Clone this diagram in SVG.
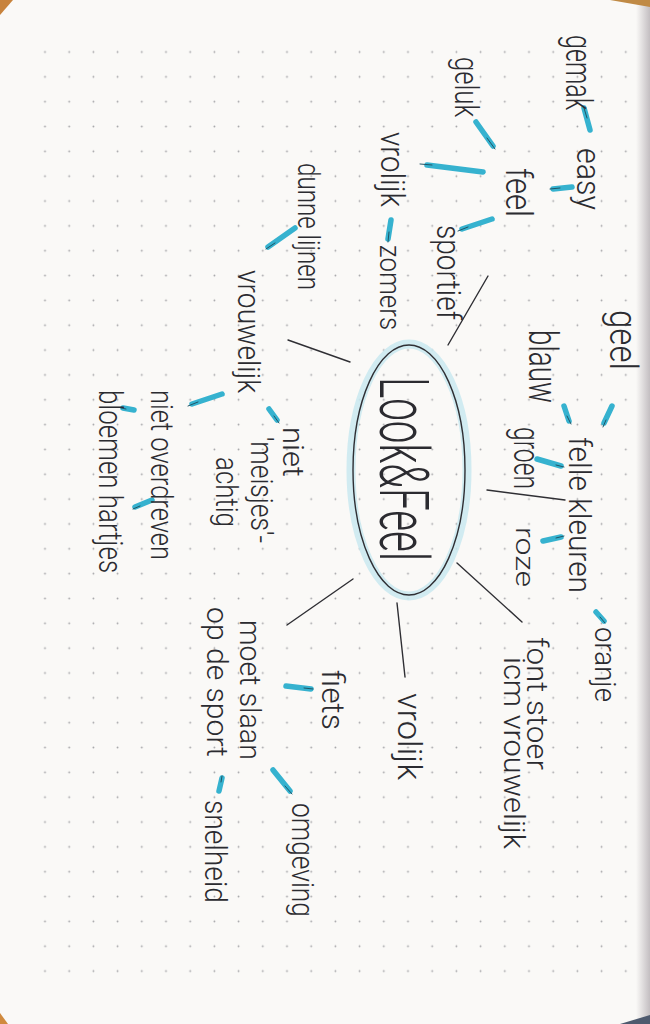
<svg xmlns="http://www.w3.org/2000/svg" width="650" height="1024" viewBox="0 0 650 1024">
<defs>
<pattern id="dots" patternUnits="userSpaceOnUse" x="32.9" y="39.58" width="24.2" height="24.84">
<circle cx="12.1" cy="12.42" r="0.9" fill="#a2a2a6"/>
</pattern>
<linearGradient id="edge" x1="0" y1="0" x2="1" y2="0">
<stop offset="0" stop-color="#faf9f7"/>
<stop offset="1" stop-color="#c3bec1"/>
</linearGradient>
<style>
.t{font-family:Roboto,"Liberation Sans",sans-serif;font-weight:300;fill:#2b2b30}
.c{stroke:#2f2f34;stroke-width:1.4;stroke-linecap:round;fill:none}
.b{stroke:#36b2cf;stroke-width:5.5;stroke-linecap:round;fill:none}
.k{stroke:#1f5566;stroke-width:1;stroke-linecap:round;fill:none}
</style>
</defs>
<rect width="650" height="1024" fill="#faf9f7"/>
<rect x="636" y="0" width="14" height="1024" fill="url(#edge)"/>
<rect x="32.9" y="39.58" width="605" height="944" fill="url(#dots)"/>
<path d="M0 0 L13 0 L0 15 Z" fill="#c8833c"/>
<path d="M610 0 L650 0 L650 7 Z" fill="#c08a45"/>
<path d="M0 1013 L8 1024 L0 1024 Z" fill="#d08a3e"/>
<path d="M620 1024 L650 1015 L650 1024 Z" fill="#4e5a6e"/>

<g id="connectors">
<line class="c" x1="448" y1="345" x2="488" y2="276"/>
<line class="c" x1="288" y1="340" x2="350" y2="362"/>
<line class="c" x1="487" y1="490" x2="565" y2="500"/>
<line class="c" x1="457" y1="563" x2="522" y2="622"/>
<line class="c" x1="397" y1="603" x2="405" y2="677"/>
<line class="c" x1="353" y1="579" x2="287" y2="625"/>
<g>
<line class="b" x1="584" y1="108" x2="590" y2="130"/><line class="k" x1="584" y1="108" x2="587" y2="118"/>
<line class="b" x1="476" y1="122" x2="493" y2="146"/><line class="k" x1="487" y1="138" x2="495" y2="149"/>
<line class="b" x1="553" y1="189" x2="572" y2="187"/><line class="k" x1="550" y1="189" x2="560" y2="188"/>
<line class="b" x1="427" y1="165" x2="483" y2="172"/><line class="k" x1="420" y1="164" x2="432" y2="165"/>
<line class="b" x1="391" y1="220" x2="388" y2="239"/><line class="k" x1="389" y1="232" x2="388" y2="242"/>
<line class="b" x1="462" y1="229" x2="492" y2="219"/><line class="k" x1="458" y1="231" x2="468" y2="227"/>
<line class="b" x1="268" y1="247" x2="295" y2="228"/><line class="k" x1="266" y1="249" x2="275" y2="243"/>
<line class="b" x1="269" y1="409" x2="277" y2="420"/><line class="k" x1="274" y1="416" x2="279" y2="423"/>
<line class="b" x1="192" y1="404" x2="222" y2="394"/><line class="k" x1="188" y1="406" x2="198" y2="402"/>
<line class="b" x1="123" y1="408" x2="134" y2="410"/><line class="k" x1="121" y1="408" x2="126" y2="409"/>
<line class="b" x1="135" y1="507" x2="152" y2="500"/><line class="k" x1="133" y1="509" x2="140" y2="506"/>
<line class="b" x1="612" y1="406" x2="604" y2="423"/><line class="k" x1="606" y1="420" x2="603" y2="427"/>
<line class="b" x1="564" y1="406" x2="569" y2="421"/><line class="k" x1="567" y1="416" x2="571" y2="424"/>
<line class="b" x1="537" y1="459" x2="561" y2="466"/><line class="k" x1="556" y1="465" x2="564" y2="467"/>
<line class="b" x1="543" y1="541" x2="561" y2="537"/><line class="k" x1="556" y1="538" x2="564" y2="536"/>
<line class="b" x1="596" y1="612" x2="604" y2="621"/><line class="k" x1="600" y1="617" x2="605" y2="623"/>
<line class="b" x1="286" y1="686" x2="311" y2="689"/><line class="k" x1="304" y1="688" x2="313" y2="689"/>
<line class="b" x1="273" y1="770" x2="290" y2="791"/><line class="k" x1="285" y1="786" x2="292" y2="794"/>
<line class="b" x1="222" y1="778" x2="219" y2="791"/><line class="k" x1="222" y1="776" x2="221" y2="782"/>
</g>
</g>

<g id="center">
<ellipse cx="409" cy="470" rx="58" ry="126" fill="none" stroke="#c9e9f0" stroke-width="9" stroke-opacity="0.85"/>
<ellipse cx="409" cy="470" rx="56" ry="125" fill="none" stroke="#2f2f34" stroke-width="1.4"/>
<text class="t" transform="translate(380,377) rotate(90)" font-size="68" textLength="184" lengthAdjust="spacingAndGlyphs">Look&amp;Feel</text>
</g>

<g id="n-gemak"><text class="t" transform="translate(566,35) rotate(90)" font-size="36" textLength="75" lengthAdjust="spacingAndGlyphs">gemak</text></g>
<g id="n-easy"><text class="t" transform="translate(577,148) rotate(90)" font-size="33" textLength="62" lengthAdjust="spacingAndGlyphs">easy</text></g>
<g id="n-geluk"><text class="t" transform="translate(455,57) rotate(90)" font-size="34" textLength="60" lengthAdjust="spacingAndGlyphs">geluk</text></g>
<g id="n-feel"><text class="t" transform="translate(506,168) rotate(90)" font-size="36" textLength="49" lengthAdjust="spacingAndGlyphs">feel</text></g>
<g id="n-vrolijk1"><text class="t" transform="translate(381,132) rotate(90)" font-size="33" textLength="75" lengthAdjust="spacingAndGlyphs">vrolijk</text></g>
<g id="n-zomers"><text class="t" transform="translate(380,245) rotate(90)" font-size="30" textLength="85" lengthAdjust="spacingAndGlyphs">zomers</text></g>
<g id="n-sportief"><text class="t" transform="translate(437,225) rotate(90)" font-size="33" textLength="95" lengthAdjust="spacingAndGlyphs">sportief</text></g>
<g id="n-dunne"><text class="t" transform="translate(298,163) rotate(90)" font-size="32" textLength="127" lengthAdjust="spacingAndGlyphs">dunne lijnen</text></g>
<g id="n-vrouwelijk"><text class="t" transform="translate(238,270) rotate(90)" font-size="32" textLength="123" lengthAdjust="spacingAndGlyphs">vrouwelijk</text></g>
<g id="n-meisjes">
<text class="t" transform="translate(283,427) rotate(90)" font-size="30" textLength="50" lengthAdjust="spacingAndGlyphs">niet</text>
<text class="t" transform="translate(251,437) rotate(90)" font-size="32" textLength="106" lengthAdjust="spacingAndGlyphs">'meisjes'-</text>
<text class="t" transform="translate(216,457) rotate(90)" font-size="32" textLength="70" lengthAdjust="spacingAndGlyphs">achtig</text>
</g>
<g id="n-overdreven"><text class="t" transform="translate(151,390) rotate(90)" font-size="32" textLength="170" lengthAdjust="spacingAndGlyphs">niet overdreven</text></g>
<g id="n-bloemen"><text class="t" transform="translate(99,390) rotate(90)" font-size="34" textLength="183" lengthAdjust="spacingAndGlyphs">bloemen hartjes</text></g>
<g id="n-geel"><text class="t" transform="translate(610,310) rotate(90)" font-size="38" textLength="60" lengthAdjust="spacingAndGlyphs">geel</text></g>
<g id="n-blauw"><text class="t" transform="translate(529,330) rotate(90)" font-size="41" textLength="73" lengthAdjust="spacingAndGlyphs">blauw</text></g>
<g id="n-felle"><text class="t" transform="translate(569,437) rotate(90)" font-size="32" textLength="156" lengthAdjust="spacingAndGlyphs">felle kleuren</text></g>
<g id="n-groen"><text class="t" transform="translate(514,427) rotate(90)" font-size="37" textLength="62" lengthAdjust="spacingAndGlyphs">groen</text></g>
<g id="n-roze"><text class="t" transform="translate(516,527) rotate(90)" font-size="26" textLength="60" lengthAdjust="spacingAndGlyphs">roze</text></g>
<g id="n-oranje"><text class="t" transform="translate(595,627) rotate(90)" font-size="29" textLength="75" lengthAdjust="spacingAndGlyphs">oranje</text></g>
<g id="n-font">
<text class="t" transform="translate(527,637) rotate(90)" font-size="29" textLength="133" lengthAdjust="spacingAndGlyphs">font stoer</text>
<text class="t" transform="translate(504,657) rotate(90)" font-size="29" textLength="192" lengthAdjust="spacingAndGlyphs">icm vrouwelijk</text>
</g>
<g id="n-vrolijk2"><text class="t" transform="translate(398,693) rotate(90)" font-size="33" textLength="87" lengthAdjust="spacingAndGlyphs">vrolijk</text></g>
<g id="n-fiets"><text class="t" transform="translate(322,670) rotate(90)" font-size="32" textLength="60" lengthAdjust="spacingAndGlyphs">fiets</text></g>
<g id="n-moet">
<text class="t" transform="translate(240,620) rotate(90)" font-size="30" textLength="140" lengthAdjust="spacingAndGlyphs">moet slaan</text>
<text class="t" transform="translate(207,607) rotate(90)" font-size="30" textLength="150" lengthAdjust="spacingAndGlyphs">op de sport</text>
</g>
<g id="n-omgeving"><text class="t" transform="translate(292,803) rotate(90)" font-size="32" textLength="114" lengthAdjust="spacingAndGlyphs">omgeving</text></g>
<g id="n-snelheid"><text class="t" transform="translate(205,800) rotate(90)" font-size="32" textLength="103" lengthAdjust="spacingAndGlyphs">snelheid</text></g>
</svg>
